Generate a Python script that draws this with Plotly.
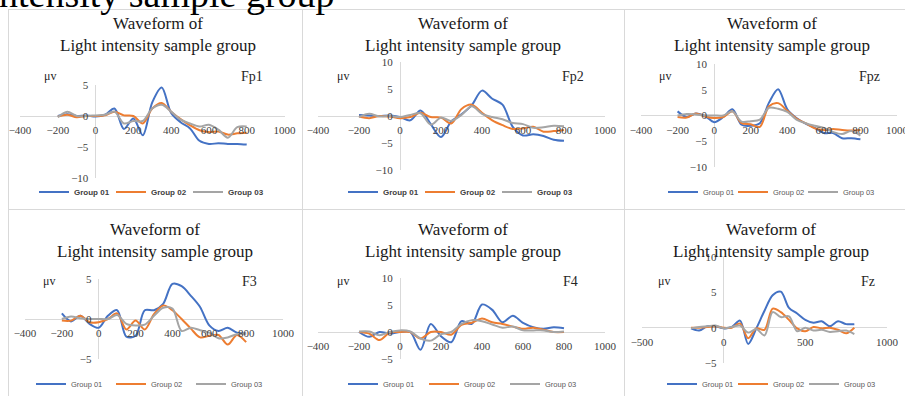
import plotly.graph_objects as go

W, H = 905, 396

# ---------------- data ----------------
times = [-200, -150, -100, -50, 0, 50, 100, 150, 200, 250, 300, 350, 400,
         450, 500, 550, 600, 650, 700, 750, 800]
series_names = ["Group 01", "Group 02", "Group 03"]
channels = ["Fp1", "Fp2", "Fpz", "F3", "F4", "Fz"]

fp1_g1 = [0, 0.3, 0, 0.1, -0.1, 0.2, 1.2, -2.1, -0.4, -3.1, 2.2, 4.6, 0.5, -1.0, -2.0, -4.0, -4.5, -4.4, -4.5, -4.5, -4.6]
fp1_g2 = [-0.1, 0.2, -0.2, 0, 0, 0.1, 0.7, 0.1, 0, -1.2, 1.2, 2.1, 0.7, -0.5, -1.5, -2.3, -2.6, -2.5, -3.0, -2.8, -2.7]
fp1_g3 = [-0.2, 0.7, 0, 0, 0.1, 0.2, 0.7, -1.2, -0.8, -0.8, 1.2, 1.8, 0.7, -0.6, -1.2, -1.7, -1.4, -2.2, -3.5, -1.8, -1.7]

fp2_g1 = [0.2, 0.1, 0, 0.1, -0.2, -0.8, 1.0, -1.5, -3.9, -1.0, 0.3, 2.0, 4.7, 3.2, 2.1, -2.0, -3.6, -3.4, -3.7, -4.4, -4.6]
fp2_g2 = [-0.1, -0.4, 0, -0.1, -0.4, -0.2, 0.6, -0.2, -0.3, -1.4, 1.3, 2.1, 0.6, -0.8, -1.7, -2.4, -2.3, -2.0, -2.9, -2.8, -2.6]
fp2_g3 = [-0.2, 0.4, -0.1, 0, -0.2, 0.2, 0.5, -1.6, -0.3, -0.9, 0.2, 1.8, 0.4, -0.2, -0.6, -1.3, -1.5, -2.2, -2.1, -1.8, -1.9]

fpz_g1 = [0.8, -0.3, 0.4, -0.1, -1.3, -0.3, 1.2, -1.8, -2.0, -1.5, 2.5, 5.1, 1.2, -0.5, -1.6, -2.4, -3.4, -3.4, -4.4, -4.4, -4.6]
fpz_g2 = [-0.3, -0.4, 0.4, -0.2, -0.5, -0.3, 0.8, -1.5, -1.7, -2.2, 1.8, 2.4, 0.9, -0.6, -1.5, -2.5, -2.8, -2.6, -2.8, -2.9, -2.8]
fpz_g3 = [0, 0.3, 0.2, 0, 0, 0, 0.8, -1.2, -1.1, -0.8, 1.5, 1.3, 0.7, -0.8, -1.5, -2.0, -2.4, -3.2, -3.6, -3.0, -3.9]

f3_g1 = [0.7, -0.3, 0.4, -0.6, -1.1, 0.4, 1.1, -2.2, -2.1, 1.1, 1.1, 1.9, 4.4, 4.1, 2.9, 1.5, -0.8, -1.5, -1.1, -1.7, -1.8]
f3_g2 = [-0.2, -0.2, 0.4, -0.4, -0.4, 0, 0.7, -1.3, -0.2, -1.3, 0.6, 1.7, 1.1, 0, -1.2, -2.3, -2.1, -2.0, -3.2, -2.0, -2.9]
f3_g3 = [0, 0.3, 0.1, 0, 0, 0, 0.5, -0.6, -0.8, -0.7, 0.4, 1.4, 1.3, -1.5, -1.1, -1.4, -1.7, -2.4, -2.3, -1.9, -1.8]

f4_g1 = [0, -0.9, 0, -0.3, 0, 0, -3.3, 1.5, -0.8, -1.9, 2.0, 1.5, 5.1, 4.1, 1.8, 3.0, 1.7, 0.9, 0.6, 0.9, 0.7]
f4_g2 = [0, -0.3, -1.5, -0.1, 0, 0, -1.2, 0, 0, -0.5, 1.3, 1.7, 2.5, 1.8, 1.5, 1.0, 0.6, 0.8, 0.4, 0, 0]
f4_g3 = [0.1, 0.1, -0.6, 0, 0.3, 0.1, -1.2, -1.6, -0.4, 0, 1.5, 2.2, 2.0, 1.4, 0.8, 1.0, 0.3, 0.3, 0.3, 0, 0.1]

fz_g1 = [-0.1, -0.4, 0.2, 0.2, -0.1, 0.1, 1.0, -2.3, -0.1, 2.4, 4.6, 5.1, 2.8, 2.0, 1.1, 0.7, 0.9, 0.2, 0.9, 0.5, 0.5]
fz_g2 = [0, 0, 0.1, 0.2, 0, 0, 0.6, -1.5, -0.1, -0.3, 2.7, 2.2, 1.1, -0.1, -0.5, 0.1, -0.1, 0, -0.3, -0.8, 0]
fz_g3 = [-0.1, 0.1, 0.2, 0.3, -0.1, 0.1, 0.3, -0.7, -0.2, -1.1, 2.2, 1.5, 1.6, -0.5, 0, -0.4, -0.3, -0.6, -0.5, -0.4, -0.9]

channel_data = [
    [fp1_g1, fp1_g2, fp1_g3],
    [fp2_g1, fp2_g2, fp2_g3],
    [fpz_g1, fpz_g2, fpz_g3],
    [f3_g1, f3_g2, f3_g3],
    [f4_g1, f4_g2, f4_g3],
    [fz_g1, fz_g2, fz_g3],
]

x_ticks_a = [-400, -200, 0, 200, 400, 600, 800, 1000]
x_ticks_b = [-500, 0, 500, 1000]
y_ticks_1 = [5, 0, -5, -10]
y_ticks_2 = [10, 5, 0, -5, -10]
y_ticks_4 = [5, 0, -5]
y_ticks_5 = [10, 5, 0, -5]

# ---------------- styles / layout geometry ----------------
colors = ["#4472C4", "#ED7D31", "#A5A5A5"]


def px(x):
    return x / W


def py(y):
    return 1 - y / H


panels = [
    dict(xp=(20, 284.5), xr=(-400, 1000), yp=(85, 178), yr=(-10, 5), xt=x_ticks_a, yt=y_ticks_1,
         tc=(158, 35), mu=(50, 76), ch=(252, 76), leg=(34, 192, 32, True)),
    dict(xp=(318, 605), xr=(-400, 1000), yp=(62, 170), yr=(-10, 10), xt=x_ticks_a, yt=y_ticks_2,
         tc=(463, 35), mu=(343, 76), ch=(573, 76), leg=(343, 192, 32, True)),
    dict(xp=(641, 897), xr=(-400, 1000), yp=(64, 167), yr=(-10, 10), xt=x_ticks_a, yt=y_ticks_2,
         tc=(772, 35), mu=(665, 76), ch=(869, 76), leg=(663, 192, 25, False)),
    dict(xp=(25, 283), xr=(-400, 1000), yp=(279, 359), yr=(-5, 5), xt=x_ticks_a, yt=y_ticks_4,
         tc=(155, 240), mu=(49, 281), ch=(249, 281), leg=(31, 384, 35, False)),
    dict(xp=(318, 605), xr=(-400, 1000), yp=(278, 359), yr=(-5, 10), xt=x_ticks_a, yt=y_ticks_5,
         tc=(463, 240), mu=(343, 281), ch=(570, 281), leg=(343, 384, 36, False)),
    dict(xp=(642, 887), xr=(-500, 1000), yp=(257, 363), yr=(-5, 10), xt=x_ticks_b, yt=y_ticks_5,
         tc=(771, 240), mu=(664, 281), ch=(868, 281), leg=(662, 384, 26, False)),
]

fig = go.Figure()
layout = dict(
    width=W, height=H, margin=dict(l=0, r=0, t=0, b=0, autoexpand=False),
    paper_bgcolor="white", plot_bgcolor="rgba(0,0,0,0)",
    showlegend=True, annotations=[], shapes=[],
)

serif = "Liberation Serif, Times New Roman, serif"
sans = "Liberation Sans, Arial, sans-serif"
tick_font = dict(family=serif, size=11, color="#404040")

for i, (p, ch, data) in enumerate(zip(panels, channels, channel_data)):
    n = "" if i == 0 else str(i + 1)
    xa, ya = "xaxis" + n, "yaxis" + n
    lg = "legend" + n
    ydom = (py(p["yp"][1]), py(p["yp"][0]))
    xdom = (px(p["xp"][0]), px(p["xp"][1]))
    ypos = ydom[0] + (0 - p["yr"][0]) / (p["yr"][1] - p["yr"][0]) * (ydom[1] - ydom[0])
    xpos = xdom[0] + (0 - p["xr"][0]) / (p["xr"][1] - p["xr"][0]) * (xdom[1] - xdom[0])
    common = dict(showgrid=False, showline=False, zeroline=True, zerolinecolor="#D9D9D9",
                  zerolinewidth=1, ticks="outside", tickcolor="rgba(0,0,0,0)",
                  tickfont=tick_font, fixedrange=True, ticklabeloverflow="allow")
    layout[xa] = dict(domain=xdom, range=list(p["xr"]), anchor="free", position=ypos,
                      tickvals=p["xt"], ticklen=4, **common)
    layout[ya] = dict(domain=ydom, range=list(p["yr"]), anchor="free", position=xpos,
                      tickvals=p["yt"], ticklen=5, **common)
    lx, ly, ew, bold = p["leg"]
    layout[lg] = dict(orientation="h", x=px(lx), y=py(ly), xanchor="left", yanchor="middle",
                      entrywidth=ew, entrywidthmode="pixels", itemwidth=30,
                      bgcolor="rgba(0,0,0,0)", borderwidth=0, itemclick=False, itemdoubleclick=False,
                      font=dict(family=sans, size=8 if bold else 7.5,
                                color="#404040" if bold else "#595959",
                                weight="bold" if bold else "normal"))
    for k, (name, vals, c) in enumerate(zip(series_names, data, colors)):
        extra = dict(legendwidth=48) if k == 2 else {}
        fig.add_trace(go.Scatter(
            x=times, y=vals, mode="lines", name=name,
            line=dict(color=c, width=2, shape="spline", smoothing=0.9),
            xaxis="x" + n, yaxis="y" + n, legend=lg, hoverinfo="skip", **extra))
    layout["annotations"].append(dict(
        text="Waveform of<br>Light intensity sample group", x=px(p["tc"][0]), y=py(p["tc"][1]),
        xref="paper", yref="paper", xanchor="center", yanchor="middle", showarrow=False,
        font=dict(family=serif, size=17, color="#1a1a1a")))
    layout["annotations"].append(dict(
        text="μv", x=px(p["mu"][0]), y=py(p["mu"][1]), xref="paper", yref="paper",
        xanchor="center", yanchor="middle", showarrow=False,
        font=dict(family=serif, size=12, color="#262626")))
    layout["annotations"].append(dict(
        text=ch, x=px(p["ch"][0]), y=py(p["ch"][1]), xref="paper", yref="paper",
        xanchor="center", yanchor="middle", showarrow=False,
        font=dict(family=serif, size=14, color="#262626")))

# partially visible caption text at the very top
layout["annotations"].append(dict(
    text="ntensity sample group", x=px(337), y=py(17), xref="paper", yref="paper",
    xanchor="right", yanchor="bottom", showarrow=False,
    font=dict(family=serif, size=38, color="#000000")))

# chart-area borders
border = dict(color="#D9D9D9", width=1)
for (x0, y0, x1, y1) in [(8, 9.5, 905, 9.5), (8, 209.5, 905, 209.5),
                         (8.5, 9, 8.5, 396), (302.5, 9, 302.5, 396), (624.5, 9, 624.5, 396)]:
    layout["shapes"].append(dict(type="line", xref="paper", yref="paper",
                                 x0=px(x0), y0=py(y0), x1=px(x1), y1=py(y1), line=border,
                                 layer="below"))

fig.update_layout(**layout)
fig.write_html("out.html")
